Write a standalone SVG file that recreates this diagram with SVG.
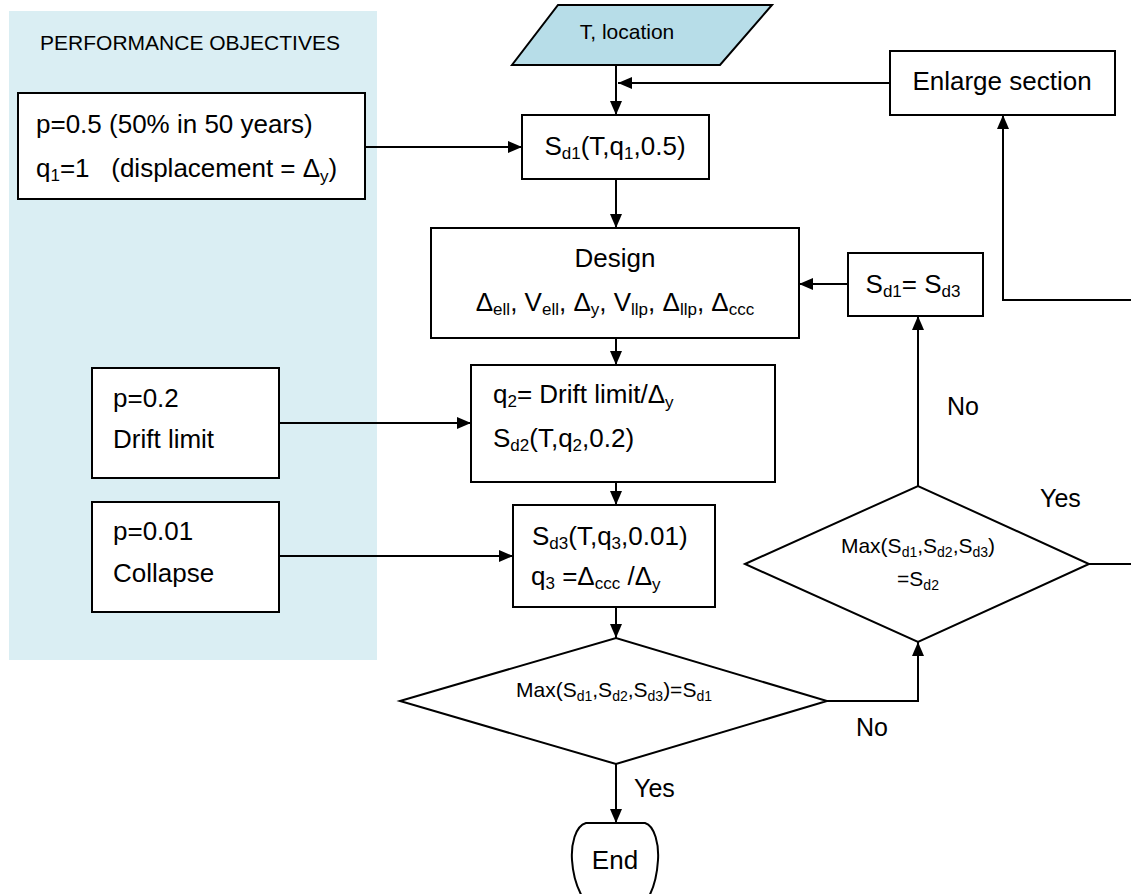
<svg xmlns="http://www.w3.org/2000/svg" width="1131" height="894" viewBox="0 0 1131 894">
<defs>
<style>
text{font-family:"Liberation Sans",Arial,sans-serif;fill:#000;}
.t{font-size:26px;}
.m{font-size:21px;}
.l{font-size:25px;}
.c{text-anchor:middle;}
.box{fill:#fff;stroke:#000;stroke-width:2;}
.ln{fill:none;stroke:#000;stroke-width:2;}
.s{font-size:17px;}
.ss{font-size:14px;}
</style>
<marker id="ah" markerUnits="userSpaceOnUse" markerWidth="14" markerHeight="12" refX="14" refY="6" orient="auto">
<path d="M0,0 L14,6 L0,12 z" fill="#000"/>
</marker>
</defs>
<rect x="9" y="11" width="368" height="649" fill="#DAEEF3"/>
<text class="m c" x="190" y="50">PERFORMANCE OBJECTIVES</text>

<g id="connectors">
<path class="ln" d="M616,65 V115" marker-end="url(#ah)"/>
<path class="ln" d="M890,83 H618" marker-end="url(#ah)"/>
<path class="ln" d="M365,147 H522" marker-end="url(#ah)"/>
<path class="ln" d="M616,179 V228" marker-end="url(#ah)"/>
<path class="ln" d="M848,284 H799" marker-end="url(#ah)"/>
<path class="ln" d="M616,338 V365" marker-end="url(#ah)"/>
<path class="ln" d="M279,423 H471" marker-end="url(#ah)"/>
<path class="ln" d="M616,482 V505" marker-end="url(#ah)"/>
<path class="ln" d="M279,556 H513" marker-end="url(#ah)"/>
<path class="ln" d="M616,607 V638" marker-end="url(#ah)"/>
<path class="ln" d="M616,764 V823" marker-end="url(#ah)"/>
<path class="ln" d="M827,701 H918 V642" marker-end="url(#ah)"/>
<path class="ln" d="M918,486 V316" marker-end="url(#ah)"/>
<path class="ln" d="M1089,564 H1133 V300 H1003 V115" marker-end="url(#ah)"/>
<text class="l" x="947" y="415">No</text>
<text class="l" x="1040" y="507">Yes</text>
<text class="l" x="634" y="797">Yes</text>
<text class="l" x="856" y="736">No</text>
</g>

<g id="tlocation">
<polygon points="558,5 772,5 720,65 512,65" fill="#B7DDE8" stroke="#000" stroke-width="2"/>
<text class="m c" x="627" y="39">T, location</text>
</g>

<g id="po1">
<rect class="box" x="18" y="93" width="347" height="106"/>
<text class="t" x="36" y="133">p=0.5 (50% in 50 years)</text>
<text class="t" x="36" y="177" style="white-space:pre">q<tspan class="s" dy="4">1</tspan><tspan dy="-4">=1   (displacement = Δ</tspan><tspan class="s" dy="5">y</tspan><tspan dy="-5">)</tspan></text>
</g>

<g id="sd1">
<rect class="box" x="522" y="115" width="187" height="64"/>
<text class="t c" x="615" y="155">S<tspan class="s" dy="4">d1</tspan><tspan dy="-4">(T,q</tspan><tspan class="s" dy="4">1</tspan><tspan dy="-4">,0.5)</tspan></text>
</g>

<g id="enlarge">
<rect class="box" x="890" y="51" width="225" height="64"/>
<text class="t c" x="1002" y="90">Enlarge section</text>
</g>

<g id="design">
<rect class="box" x="431" y="228" width="368" height="110"/>
<text class="t c" x="615" y="267">Design</text>
<text class="t c" x="615" y="311">Δ<tspan class="s" dy="4">ell</tspan><tspan dy="-4">, V</tspan><tspan class="s" dy="4">ell</tspan><tspan dy="-4">, Δ</tspan><tspan class="s" dy="4">y</tspan><tspan dy="-4">, V</tspan><tspan class="s" dy="4">llp</tspan><tspan dy="-4">, Δ</tspan><tspan class="s" dy="4">llp</tspan><tspan dy="-4">, Δ</tspan><tspan class="s" dy="4">ccc</tspan></text>
</g>

<g id="sd1eq">
<rect class="box" x="848" y="253" width="135" height="63"/>
<text class="t c" x="913" y="293">S<tspan class="s" dy="4">d1</tspan><tspan dy="-4">= S</tspan><tspan class="s" dy="4">d3</tspan></text>
</g>

<g id="po2">
<rect class="box" x="92" y="368" width="187" height="110"/>
<text class="t" x="113" y="407">p=0.2</text>
<text class="t" x="113" y="448">Drift limit</text>
</g>

<g id="sd2">
<rect class="box" x="471" y="365" width="304" height="117"/>
<text class="t" x="493" y="403">q<tspan class="s" dy="4">2</tspan><tspan dy="-4">= Drift limit/Δ</tspan><tspan class="s" dy="5">y</tspan></text>
<text class="t" x="493" y="447">S<tspan class="s" dy="4">d2</tspan><tspan dy="-4">(T,q</tspan><tspan class="s" dy="4">2</tspan><tspan dy="-4">,0.2)</tspan></text>
</g>

<g id="po3">
<rect class="box" x="92" y="502" width="187" height="110"/>
<text class="t" x="113" y="540">p=0.01</text>
<text class="t" x="113" y="582">Collapse</text>
</g>

<g id="sd3">
<rect class="box" x="513" y="505" width="202" height="102"/>
<text class="t" x="532" y="545">S<tspan class="s" dy="4">d3</tspan><tspan dy="-4">(T,q</tspan><tspan class="s" dy="4">3</tspan><tspan dy="-4">,0.01)</tspan></text>
<text class="t" x="531" y="585">q<tspan class="s" dy="4">3</tspan><tspan dy="-4"> =Δ</tspan><tspan class="s" dy="4">ccc</tspan><tspan dy="-4"> /Δ</tspan><tspan class="s" dy="5">y</tspan></text>
</g>

<g id="dec1">
<polygon points="400,701 616,638 827,701 616,764" class="box"/>
<text class="m c" x="614" y="697">Max(S<tspan class="ss" dy="4">d1</tspan><tspan dy="-4">,S</tspan><tspan class="ss" dy="4">d2</tspan><tspan dy="-4">,S</tspan><tspan class="ss" dy="4">d3</tspan><tspan dy="-4">)=S</tspan><tspan class="ss" dy="4">d1</tspan></text>
</g>

<g id="dec2">
<polygon points="745,564 918,486 1089,564 918,642" class="box"/>
<text class="m c" x="918" y="553">Max(S<tspan class="ss" dy="4">d1</tspan><tspan dy="-4">,S</tspan><tspan class="ss" dy="4">d2</tspan><tspan dy="-4">,S</tspan><tspan class="ss" dy="4">d3</tspan><tspan dy="-4">)</tspan></text>
<text class="m c" x="918" y="586">=S<tspan class="ss" dy="4">d2</tspan></text>
</g>

<g id="end">
<path class="box" d="M586,823 H645 C655,826 659,845 658,860 C657,876 654,888 648,898 L583,898 C577,888 573,876 572,860 C571,845 575,826 586,823 Z"/>
<text class="t c" x="615" y="869">End</text>
</g>
</svg>
